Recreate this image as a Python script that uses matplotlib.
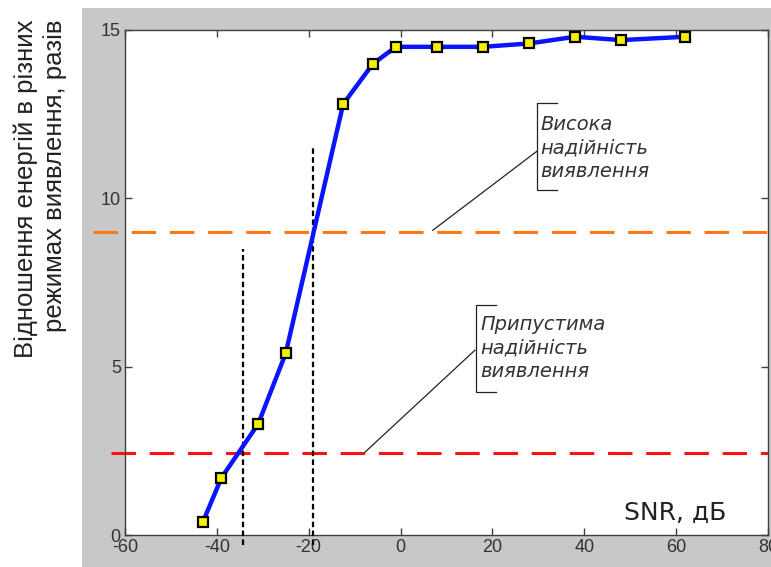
import numpy as np
import matplotlib
matplotlib.use("Agg")
import matplotlib.pyplot as plt
from matplotlib.patches import Rectangle

plt.rcParams['font.family'] = ['Liberation Sans', 'DejaVu Sans']
plt.rcParams['axes.unicode_minus'] = False

# data
snr = [-43, -39, -31, -25, -12.5, -6, -1, 8, 18, 28, 38, 48, 62]
ratio = [0.4, 1.7, 3.3, 5.4, 12.8, 14.0, 14.5, 14.5, 14.5, 14.6, 14.8, 14.7, 14.8]
high_level = 9.0
low_level = 2.45
vlines_x = [-34.2, -19.1]
vlines_top = [8.5, 11.5]
xticks = [-60, -40, -20, 0, 20, 40, 60, 80]
yticks = [0, 5, 10, 15]

fig = plt.figure(figsize=(7.71, 5.67), dpi=100, facecolor='white')
# grey panel behind the axes
fig.patches.append(Rectangle((82/771, 0), 1 - 82/771, 1 - 8/567,
                             transform=fig.transFigure, facecolor='#c8c8c8',
                             edgecolor='none', zorder=-10))
ax = fig.add_axes([125/771, 32/567, (768-125)/771, (535-30)/567])
ax.set_facecolor('white')

ax.plot([-67, 80], [high_level, high_level], color='#ff7814', lw=2.2,
        dashes=(8, 4.5), clip_on=False, zorder=2)
ax.plot([-63, 80], [low_level, low_level], color='#ff1010', lw=2.2,
        dashes=(8, 4.5), clip_on=False, zorder=2)
for xv, yt in zip(vlines_x, vlines_top):
    ax.plot([xv, xv], [-0.3, yt], color='black', lw=1.6, dashes=(2.5, 1.5),
            clip_on=False, zorder=3)

ax.plot(snr, ratio, color='#0a14ff', lw=3.2, marker='s', markersize=7,
        markerfacecolor='#f5f000', markeredgecolor='black', markeredgewidth=1.6,
        zorder=4)

ax.set_xlim(-60, 80)
ax.set_ylim(0, 15)
ax.set_xticks(xticks)
ax.set_yticks(yticks)
ax.tick_params(direction='in', top=True, right=True, length=5, width=1,
               color='#404040', labelsize=13, labelcolor='#333333', pad=3)
for s in ax.spines.values():
    s.set_color('#404040')
    s.set_linewidth(1)

ax.text(0.936, 0.03, 'SNR, дБ', transform=ax.transAxes, fontsize=18,
        family='DejaVu Sans', ha='right', va='baseline', color='#222222')

# annotations with brackets
def note(x_txt, y_mid, lines, bx, by0, by1, p0, p1):
    ax.plot([p0[0], p1[0]], [p0[1], p1[1]], color='#222222', lw=0.9)
    ax.plot([bx + 4.4, bx, bx, bx + 4.4], [by0, by0, by1, by1],
            color='#222222', lw=0.9)
    ax.text(x_txt, y_mid, lines, fontsize=14, style='italic', color='#333333',
            family='DejaVu Sans', ha='left', va='center', linespacing=1.3)

note(30.4, 11.5, 'Висока\nнадійність\nвиявлення', 29.7, 12.83, 10.25,
     (7.0, 9.05), (29.7, 11.4))
note(17.3, 5.55, 'Припустима\nнадійність\nвиявлення', 16.4, 6.83, 4.25,
     (-7.75, 2.46), (16.2, 5.49))

fig.text(40/771, 1 - 20/567, 'Відношення енергій в різних\nрежимах виявлення, разів',
         rotation=90, fontsize=18.5, ha='center', va='top', multialignment='right',
         color='#222222', linespacing=1.28)

fig.savefig('out.png', dpi=100, facecolor=fig.get_facecolor())
